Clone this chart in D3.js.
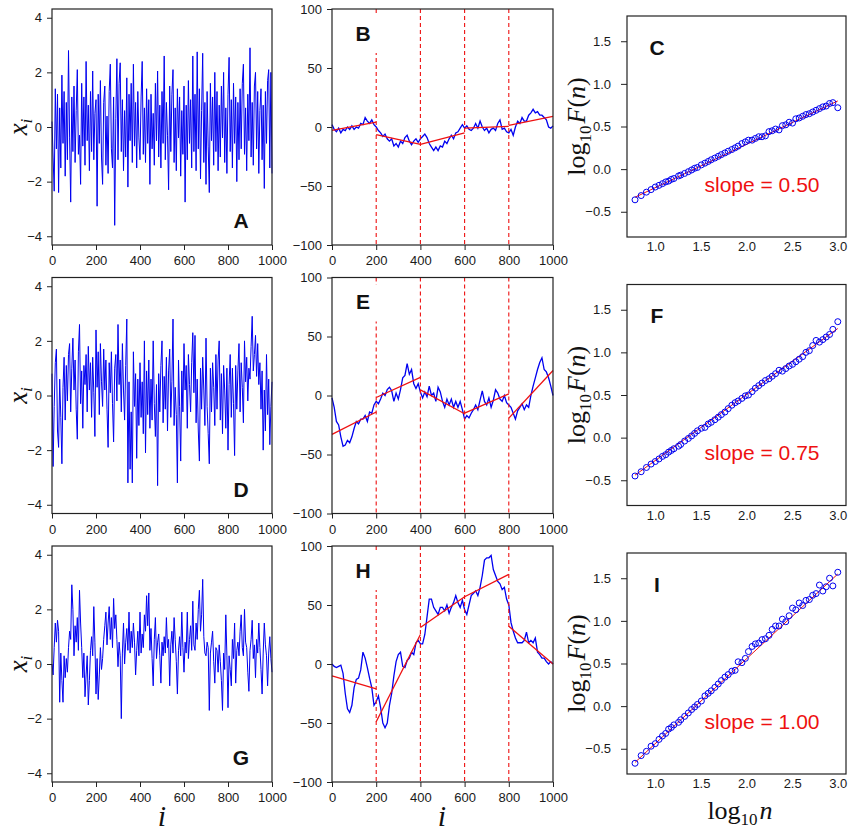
<!DOCTYPE html>
<html>
<head>
<meta charset="utf-8">
<script src="https://cdnjs.cloudflare.com/ajax/libs/d3/7.8.5/d3.min.js"></script>
<style>
    body { margin: 0; background: #fff; }
    svg text { font-family: "Liberation Sans", Arial, sans-serif; }
    .math { font-family: "Liberation Serif", "Times New Roman", serif; }
</style>
</head>
<body>
<svg id="chart" width="850" height="833"></svg>
<script>
// 刻度
const iTicks = [0, 200, 400, 600, 800, 1000];
const noiseTicks = [-4, -2, 0, 2, 4];
const profTicks = [-100, -50, 0, 50, 100];
const dfaXTicks = [1.0, 1.5, 2.0, 2.5, 3.0];
const dfaYTicks = [-0.5, 0.0, 0.5, 1.0, 1.5];
const segBreaks = [200, 400, 600, 800];

// 原始序列 x_i（每 5 个点取一个）
const noiseStep = 5;
const noiseA = [0.2,-1.1,-2.35,1.4,-0.8,1.2,-2.4,0.7,-1.5,1.9,
    -0.6,1.3,-1.8,0.9,-1.2,2.8,-0.4,-2.75,1.1,-0.9,
    1.5,-1.3,0.6,2.1,-1.0,-0.3,-2.1,1.6,-0.7,1.1,
    -1.4,2.4,-0.5,0.8,-1.6,1.3,-0.9,2.05,-1.2,0.5,
    1.0,-2.9,1.2,-0.6,1.7,-1.1,-2.1,0.9,1.5,-1.4,
    0.4,-1.7,1.3,2.3,-0.8,-1.5,1.1,-3.6,0.3,2.5,
    -1.2,1.6,2.35,-0.9,1.0,-1.6,0.6,-1.1,1.8,-2.2,
    1.2,-0.5,1.6,-1.3,2.3,-0.7,0.9,-1.5,1.3,-0.4,
    -1.2,1.1,2.4,-1.0,0.7,-1.3,1.4,-0.6,1.0,-2.1,
    1.2,-0.8,0.5,-1.4,1.6,-0.5,2.05,-1.1,0.8,-1.5,
    1.3,-0.6,2.6,-1.2,0.9,-0.3,-2.3,1.5,-0.9,1.2,
    2.1,-1.3,0.7,-1.6,1.4,-0.4,1.1,-1.8,0.6,-1.0,
    1.5,-2.75,0.8,-1.2,1.7,-0.6,1.0,-1.5,2.6,-0.9,
    1.2,-1.6,2.75,-0.8,1.4,-1.9,0.6,2.7,-1.3,0.9,
    -2.1,1.3,-0.7,-2.4,1.6,-0.5,1.1,-1.4,2.0,-0.9,
    1.3,-1.6,0.8,-1.1,1.5,-0.4,2.0,-1.3,0.7,-1.7,
    1.2,2.55,-0.9,1.0,-1.5,1.6,-0.6,1.1,-2.0,0.9,
    -1.2,1.4,-0.8,1.6,2.3,-1.0,0.7,-1.6,1.2,-0.5,
    2.9,-1.1,0.9,-1.4,1.5,2.0,-0.8,1.3,-1.7,0.6,
    1.4,-1.2,0.8,-2.25,1.3,-0.6,1.7,2.1,-1.5,2.0,
    -1.7];
const noiseD = [0.8,-2.6,-0.4,1.2,1.7,-1.3,-1.9,0.6,-0.8,-2.5,
    0.3,1.4,-0.9,1.1,-0.2,1.5,1.9,-0.6,1.0,2.1,
    0.2,1.3,-0.5,-1.6,1.6,2.6,-0.3,0.9,-1.2,1.1,
    0.4,1.5,-0.6,1.8,0.2,1.2,-0.8,1.4,0.1,-1.5,
    2.4,0.3,1.6,-0.7,1.9,0.5,-0.4,1.7,0.2,1.3,
    -0.5,-1.9,1.2,0.1,1.6,-0.3,-1.7,1.0,1.5,-0.2,
    2.6,0.4,1.3,-0.6,1.9,0.2,-0.9,1.1,2.8,-3.2,
    0.5,-2.7,-0.6,-3.2,1.6,-0.4,0.8,-2.3,0.6,-1.1,
    1.2,-0.8,0.5,-1.4,2.0,-2.1,0.9,-0.7,1.3,-1.2,
    0.6,-0.9,2.0,-0.3,-1.5,0.4,-3.3,0.8,-0.6,1.1,
    2.0,-1.0,0.7,-0.5,1.4,-1.3,0.9,1.7,-0.8,0.5,
    2.8,-1.1,0.3,-0.7,-3.2,1.3,-0.4,-2.4,0.9,-0.6,
    1.9,0.2,1.1,-1.2,1.5,0.4,-0.6,1.2,2.3,0.1,
    2.2,-1.0,0.6,-1.3,-2.4,1.0,-0.5,1.4,0.2,-1.1,
    2.1,-0.4,-1.4,-2.5,1.0,-0.6,1.2,0.3,-1.1,1.5,
    -0.5,1.3,2.0,-0.9,0.8,-1.4,1.1,0.2,-1.2,1.0,
    -2.0,0.4,1.5,-0.8,1.0,-0.3,-2.2,1.1,-0.5,0.9,
    1.9,-0.6,1.2,0.3,-1.0,2.0,0.5,1.4,-0.2,1.0,
    0.6,1.8,2.9,0.9,1.5,2.2,0.7,1.9,0.4,1.2,
    -0.5,0.9,-2.0,0.2,-1.3,1.5,-0.7,0.6,-1.8,-0.4,
    0.5];
const noiseG = [0.0,-0.4,0.6,1.5,0.8,1.6,1.2,-1.4,0.4,-0.6,
    -1.4,0.3,-0.5,0.2,-0.3,0.6,1.2,0.9,2.9,2.0,
    0.3,1.4,0.8,1.7,0.5,2.7,1.5,0.6,-0.5,0.4,
    -1.2,-0.4,0.3,-1.5,-0.6,0.5,1.0,0.3,2.1,0.8,
    -1.1,0.2,-1.3,-0.4,0.6,-0.2,0.2,0.9,1.4,1.9,
    0.7,1.5,2.1,0.9,1.7,0.6,2.4,1.3,1.8,0.9,
    -0.1,0.8,0.3,-2.0,0.4,1.5,0.0,0.8,1.3,0.5,
    1.9,0.4,1.2,0.6,1.5,0.8,-0.4,0.5,1.2,0.3,
    1.9,0.4,1.1,0.6,1.8,1.2,2.5,1.4,2.6,0.5,
    1.3,0.2,-0.8,0.9,1.7,0.2,0.8,1.1,0.3,-0.7,
    0.8,0.3,1.0,0.4,1.7,0.6,0.9,-0.8,0.7,1.2,
    0.4,1.7,0.9,0.1,-1.1,0.5,1.0,0.3,1.9,0.6,
    -0.3,0.8,0.4,1.9,0.2,0.9,1.4,0.5,2.3,0.7,
    0.5,1.5,0.9,2.0,2.7,1.2,1.8,3.1,1.0,0.4,
    0.3,0.8,0.6,-1.7,0.4,0.8,1.2,0.1,-0.7,0.6,
    0.5,-0.3,0.7,0.1,-0.6,-1.7,0.4,-0.2,1.8,0.3,
    -1.6,0.3,-0.2,-0.8,0.9,0.2,1.5,-0.7,0.5,0.8,
    0.3,1.2,1.8,0.6,0.3,2.0,0.8,0.6,-0.3,-1.0,
    0.5,0.9,1.6,0.2,0.7,-0.5,0.9,0.4,1.5,0.6,
    -0.2,-1.1,0.4,1.5,0.7,0.3,-0.8,0.4,1.0,0.2,
    -0.3];

// 累积剖面（每 10 个点取一个）
const profStep = 10;
const profB = [2,-2,-4,-1,-5,-2,-3,0,-2,1,
    -2,0,-1,3,2,8,5,3,6,2,
    0,-3,-5,-8,-6,-10,-12,-10,-16,-14,
    -17,-12,-14,-9,-7,-12,-15,-12,-10,-13,
    -10,-8,-6,-9,-14,-17,-20,-17,-20,-16,
    -17,-12,-14,-10,-7,-10,-5,-4,-1,2,
    -1,1,-2,-3,-1,3,-1,5,0,-3,
    -1,-5,-2,-1,-3,3,6,-2,-1,-4,
    -5,-2,-7,0,5,3,8,5,5,10,
    12,15,12,13,10,10,8,6,0,-1,
    1];
const profE = [-2,-10,-22,-25,-35,-43,-42,-38,-40,-35,
    -28,-22,-24,-20,-20,-17,-22,-14,-15,-8,
    -5,-7,-3,2,0,5,7,4,-5,2,
    -3,5,15,17,27,18,22,10,6,10,
    3,-2,3,-1,8,0,2,-5,7,3,
    -5,-10,-3,-8,-3,-10,-5,-10,-5,-12,
    -20,-17,-19,-15,-12,-8,-12,-4,4,-5,
    -8,-2,-10,-4,5,2,-3,-5,0,-6,
    -8,-10,-15,-20,-13,-10,-7,-12,-8,-10,
    0,8,15,22,28,32,22,20,15,8,
    0];
const profH = [0,-2,-3,-2,-1,-8,-25,-38,-41,-35,
    -20,-13,-12,-5,10,5,-3,-12,-20,-35,
    -32,-27,-37,-50,-54,-50,-35,-25,-10,2,
    8,10,-2,-3,3,5,10,8,18,20,
    17,17,25,40,55,55,48,45,42,48,
    48,45,50,43,48,52,58,52,48,54,
    46,42,50,58,60,62,58,65,75,88,
    90,90,92,80,75,70,68,63,65,55,
    50,35,28,22,18,18,18,20,27,18,
    20,18,22,10,8,5,5,2,0,2,
    0];

// 每段拟合线 [起点值, 终点值]
const fitB = [[-2.8, 4.2], [-6.5, -14.7], [-14.7, -5], [-1, 0.6], [1.4, 9]];
const fitE = [[-33, -14], [-1.7, 15.3], [4.8, -15.5], [-15, 1.4], [-19.2, 21.2]];
const fitH = [[-10, -21], [-49, 25], [31, 57], [57, 76], [32, 0]];

// DFA: log10 n 与 log10 F(n)
const logN = [0.778,0.845,0.903,0.954,1.0,1.041,1.079,1.114,1.146,1.176,
    1.204,1.255,1.279,1.322,1.362,1.398,1.431,1.462,1.505,1.544,
    1.580,1.613,1.653,1.690,1.724,1.763,1.799,1.839,1.875,1.908,
    1.949,1.987,2.021,2.061,2.097,2.134,2.170,2.207,2.246,2.281,
    2.318,2.356,2.393,2.430,2.467,2.504,2.540,2.577,2.615,2.651,
    2.688,2.725,2.762,2.799,2.836,2.873,2.910,2.946,3.0];
const logFC = [-0.36,-0.31,-0.27,-0.24,-0.21,-0.19,-0.17,-0.15,-0.14,-0.12,
    -0.11,-0.08,-0.07,-0.05,-0.03,-0.01,0.01,0.02,0.05,0.07,
    0.09,0.11,0.13,0.15,0.17,0.19,0.21,0.23,0.25,0.27,
    0.30,0.32,0.34,0.34,0.36,0.38,0.38,0.39,0.44,0.45,
    0.47,0.46,0.51,0.52,0.55,0.54,0.59,0.60,0.62,0.64,
    0.65,0.67,0.69,0.71,0.73,0.74,0.77,0.78,0.72];
const logFF = [-0.45,-0.40,-0.35,-0.31,-0.28,-0.25,-0.22,-0.20,-0.17,-0.15,
    -0.13,-0.10,-0.08,-0.04,-0.01,0.02,0.05,0.08,0.11,0.12,
    0.16,0.18,0.21,0.24,0.27,0.30,0.34,0.38,0.41,0.43,
    0.46,0.49,0.50,0.54,0.58,0.61,0.64,0.67,0.69,0.72,
    0.75,0.79,0.78,0.81,0.84,0.86,0.89,0.92,0.95,1.00,
    1.02,1.08,1.14,1.12,1.15,1.18,1.21,1.27,1.36];
const logFI = [-0.67,-0.58,-0.53,-0.47,-0.44,-0.39,-0.35,-0.32,-0.27,-0.25,
    -0.22,-0.19,-0.16,-0.12,-0.08,-0.04,-0.01,0.02,0.06,0.12,
    0.15,0.18,0.22,0.26,0.30,0.34,0.37,0.41,0.42,0.52,
    0.51,0.56,0.64,0.70,0.73,0.74,0.78,0.79,0.83,0.90,
    0.94,0.94,1.02,0.99,1.06,1.15,1.13,1.21,1.18,1.24,
    1.25,1.30,1.32,1.42,1.35,1.40,1.50,1.41,1.57];
// 拟合直线两端的值
const dfaFitC = [-0.33, 0.80];
const dfaFitF = [-0.44, 1.28];
const dfaFitI = [-0.66, 1.55];

const panelLetters = [['A', 'B', 'C'], ['D', 'E', 'F'], ['G', 'H', 'I']];
const slopeLabels = ['slope = 0.50', 'slope = 0.75', 'slope = 1.00'];

const rows = [
    { noise: noiseA, prof: profB, fit: fitB, dfa: logFC, dfaFit: dfaFitC },
    { noise: noiseD, prof: profE, fit: fitE, dfa: logFF, dfaFit: dfaFitF },
    { noise: noiseG, prof: profH, fit: fitH, dfa: logFI, dfaFit: dfaFitI }
];

const svg = d3.select('#chart');
const rowGap = 268.5;
const BLUE = '#0000f0', RED = '#ee1111', INK = '#1a1a1a';
const minus = f => d => f(d).replace('-', '\u2212');

function styleAxis(g) {
    g.attr('font-size', 13).attr('font-family', '"Liberation Sans", Arial, sans-serif');
    g.select('.domain').remove();
    g.selectAll('.tick line').attr('stroke', '#222');
    g.selectAll('.tick text').attr('fill', INK);
}

function frame(x0, y0, x1, y1) {
    svg.append('rect')
        .attr('x', x0).attr('y', y0)
        .attr('width', x1 - x0).attr('height', y1 - y0)
        .attr('fill', 'none').attr('stroke', '#222').attr('stroke-width', 1.2);
}

function letter(text, x, y) {
    svg.append('text')
        .attr('x', x).attr('y', y)
        .attr('text-anchor', 'middle')
        .attr('font-size', 21).attr('font-weight', 'bold')
        .attr('fill', '#111')
        .text(text);
}

// 第一列：原始序列
function drawNoise(r, data) {
    const off = r * rowGap;
    const top = 9 + off, bot = 245 + off, x0 = 52, x1 = 272;
    const x = d3.scaleLinear().domain([0, 1000]).range([x0, x1]);
    const y = d3.scaleLinear().domain([-4.32, 4.32]).range([bot, top]);

    svg.append('path')
        .datum(data)
        .attr('d', d3.line().x((d, k) => x(k * noiseStep)).y(d => y(d)))
        .attr('fill', 'none').attr('stroke', BLUE).attr('stroke-width', 1);

    svg.append('g').attr('transform', `translate(0,${bot})`)
        .call(d3.axisBottom(x).tickValues(iTicks).tickSize(5).tickPadding(6).tickFormat(d3.format('d')))
        .call(styleAxis);
    svg.append('g').attr('transform', `translate(${x0},0)`)
        .call(d3.axisLeft(y).tickValues(noiseTicks).tickSize(5).tickPadding(5)
            .tickFormat(minus(d3.format('d'))))
        .call(styleAxis);

    frame(x0, top, x1, bot);
    letter(panelLetters[r][0], x1 - 31, bot - 17);

    // y 轴标题 x_i
    const t = svg.append('text').attr('class', 'math')
        .attr('transform', `translate(27,${(top + bot) / 2}) rotate(-90)`)
        .attr('text-anchor', 'middle').attr('fill', '#111');
    t.append('tspan').attr('font-style', 'italic').attr('font-size', 27).text('x');
    t.append('tspan').attr('font-style', 'italic').attr('font-size', 17).attr('dy', 5).text('i');
}

// 第二列：剖面与分段拟合
function drawProfile(r, data, fit) {
    const off = r * rowGap;
    const top = 9 + off, bot = 245 + off, x0 = 332, x1 = 553;
    const x = d3.scaleLinear().domain([0, 1000]).range([x0, x1]);
    const y = d3.scaleLinear().domain([-100, 100]).range([bot, top]);

    svg.append('path')
        .datum(data)
        .attr('d', d3.line().x((d, k) => x(k * profStep)).y(d => y(d)))
        .attr('fill', 'none').attr('stroke', BLUE).attr('stroke-width', 1.3);

    svg.selectAll(null)
        .data(segBreaks)
        .enter().append('line')
        .attr('x1', d => x(d)).attr('x2', d => x(d))
        .attr('y1', top).attr('y2', bot)
        .attr('stroke', RED).attr('stroke-width', 1.1)
        .attr('stroke-dasharray', '4,3');

    svg.selectAll(null)
        .data(fit)
        .enter().append('line')
        .attr('x1', (d, k) => x(k * 200)).attr('x2', (d, k) => x((k + 1) * 200))
        .attr('y1', d => y(d[0])).attr('y2', d => y(d[1]))
        .attr('stroke', RED).attr('stroke-width', 1.3);

    svg.append('g').attr('transform', `translate(0,${bot})`)
        .call(d3.axisBottom(x).tickValues(iTicks).tickSize(5).tickPadding(6).tickFormat(d3.format('d')))
        .call(styleAxis);
    svg.append('g').attr('transform', `translate(${x0},0)`)
        .call(d3.axisLeft(y).tickValues(profTicks).tickSize(5).tickPadding(5)
            .tickFormat(minus(d3.format('d'))))
        .call(styleAxis);

    frame(x0, top, x1, bot);

    // 标签白底，遮住 200 处虚线
    svg.append('rect')
        .attr('x', x0 + 14).attr('y', top + 7)
        .attr('width', 34).attr('height', 37)
        .attr('fill', '#fff');
    letter(panelLetters[r][1], x0 + 31, top + 31.5);
}

// 第三列：DFA 双对数
function drawDfa(r, data, fitEnds) {
    const off = r * rowGap;
    const top = 16 + off, bot = 237 + off, x0 = 627, x1 = 846;
    const x = d3.scaleLinear().domain([0.69, 3.09]).range([x0, x1]);
    const y = d3.scaleLinear().domain([-0.796, 1.796]).range([bot, top]);

    svg.append('line')
        .attr('x1', x(logN[0])).attr('x2', x(logN[logN.length - 1]))
        .attr('y1', y(fitEnds[0])).attr('y2', y(fitEnds[1]))
        .attr('stroke', RED).attr('stroke-width', 1);

    svg.selectAll(null)
        .data(data)
        .enter().append('circle')
        .attr('cx', (d, k) => x(logN[k]))
        .attr('cy', d => y(d))
        .attr('r', 3)
        .attr('fill', 'none').attr('stroke', BLUE).attr('stroke-width', 1);

    svg.append('g').attr('transform', `translate(0,${bot})`)
        .call(d3.axisBottom(x).tickValues(dfaXTicks).tickSize(0).tickPadding(5).tickFormat(d3.format('.1f')))
        .call(styleAxis);
    svg.append('g').attr('transform', `translate(${x0},0)`)
        .call(d3.axisLeft(y).tickValues(dfaYTicks).tickSize(6).tickPadding(10)
            .tickFormat(minus(d3.format('.1f'))))
        .call(styleAxis);

    frame(x0, top, x1, bot);
    letter(panelLetters[r][2], x0 + 30, top + 38.5);

    svg.append('text')
        .attr('x', x0 + 135).attr('y', top + 175.5)
        .attr('text-anchor', 'middle')
        .attr('font-size', 21).attr('fill', RED)
        .text(slopeLabels[r]);

    // y 轴标题 log10 F(n)
    const t = svg.append('text').attr('class', 'math')
        .attr('transform', `translate(585,${(top + bot) / 2}) rotate(-90)`)
        .attr('text-anchor', 'middle').attr('fill', '#111').attr('font-size', 26);
    t.append('tspan').text('log');
    t.append('tspan').attr('font-size', 17).attr('dy', 6).text('10');
    t.append('tspan').attr('font-style', 'italic').attr('dy', -6).attr('dx', 2).text('F');
    t.append('tspan').text('(');
    t.append('tspan').attr('font-style', 'italic').text('n');
    t.append('tspan').text(')');
}

rows.forEach((row, r) => {
    drawNoise(r, row.noise);
    drawProfile(r, row.prof, row.fit);
    drawDfa(r, row.dfa, row.dfaFit);
});

// 底部 x 轴标题
[162, 442].forEach(cx => {
    svg.append('text').attr('class', 'math')
        .attr('x', cx).attr('y', 826)
        .attr('text-anchor', 'middle')
        .attr('font-size', 30).attr('font-style', 'italic').attr('fill', '#111')
        .text('i');
});

const xl = svg.append('text').attr('class', 'math')
    .attr('x', 740).attr('y', 819)
    .attr('text-anchor', 'middle').attr('font-size', 26).attr('fill', '#111');
xl.append('tspan').text('log');
xl.append('tspan').attr('font-size', 17).attr('dy', 6).text('10');
xl.append('tspan').attr('font-style', 'italic').attr('dy', -6).attr('dx', 2).text('n');
</script>
</body>
</html>
